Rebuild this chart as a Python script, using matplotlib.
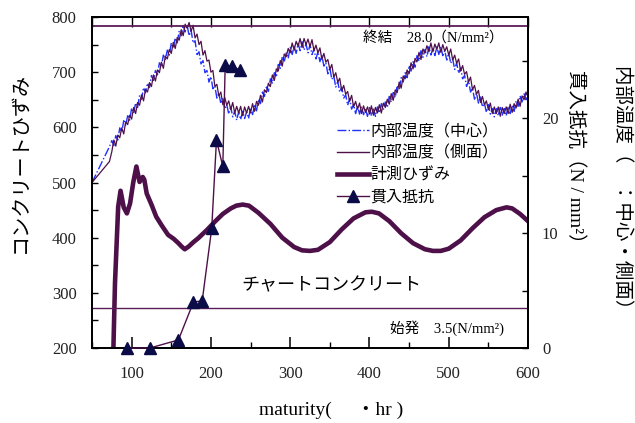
import numpy as np
import matplotlib
matplotlib.use("Agg")
import matplotlib.pyplot as plt
from matplotlib.lines import Line2D

# ---- data ----
# internal temperature, shown on the strain scale; logger samples every 2.5 units
temp_x = np.concatenate([[50, 72], np.arange(75, 600.1, 2.5)])
temp_center = [500, 565,
               576, 567, 585, 577, 599, 591, 612, 604, 621, 613,
               635, 626, 644, 636, 658, 651, 672, 663, 680, 672,
               694, 685, 703, 695, 717, 710, 731, 723, 740, 731,
               753, 744, 762, 753, 775, 766, 786, 773, 785, 766,
               776, 753, 757, 732, 737, 715, 721, 699, 703, 682,
               692, 670, 675, 653, 662, 643, 652, 634, 641, 624,
               637, 619, 629, 613, 628, 614, 629, 616, 628, 616,
               635, 623, 639, 630, 651, 643, 664, 656, 673, 665,
               688, 680, 699, 691, 714, 707, 728, 719, 735, 725,
               745, 732, 747, 734, 752, 739, 755, 740, 751, 735,
               750, 732, 742, 724, 737, 719, 730, 711, 717, 697,
               708, 687, 693, 673, 683, 664, 673, 653, 659, 640,
               652, 633, 642, 625, 639, 624, 638, 623, 634, 620,
               636, 621, 633, 620, 637, 626, 643, 632, 646, 636,
               656, 646, 663, 654, 676, 669, 690, 682, 699, 690,
               712, 702, 719, 709, 730, 720, 739, 727, 741, 728,
               746, 731, 744, 730, 746, 732, 746, 730, 739, 722,
               735, 716, 724, 705, 717, 698, 708, 688, 694, 674,
               685, 664, 671, 651, 662, 644, 655, 637, 644, 627,
               641, 624, 634, 619, 634, 621, 636, 622, 634, 621,
               638, 625, 640, 629, 648, 638, 657, 646, 661, 650,
               670]
temp_side = [500, 538,
             556, 577, 566, 586, 581, 599, 588, 610, 605, 622,
             615, 636, 625, 645, 640, 659, 648, 669, 664, 681,
             674, 695, 684, 704, 699, 718, 707, 729, 724, 741,
             734, 754, 743, 763, 758, 777, 766, 787, 780, 790,
             774, 785, 762, 769, 750, 756, 731, 739, 720, 722,
             700, 703, 674, 678, 657, 664, 641, 654, 640, 648,
             632, 645, 626, 638, 626, 638, 621, 637, 626, 638,
             626, 643, 629, 647, 640, 658, 646, 668, 663, 680,
             674, 695, 685, 706, 702, 721, 711, 733, 728, 743,
             735, 753, 740, 756, 747, 761, 745, 761, 750, 760,
             746, 759, 739, 749, 735, 744, 723, 734, 718, 723,
             705, 714, 691, 699, 682, 689, 666, 676, 660, 665,
             647, 658, 637, 647, 633, 644, 625, 639, 627, 637,
             624, 639, 622, 636, 626, 641, 626, 644, 636, 651,
             642, 661, 649, 668, 663, 682, 671, 693, 688, 704,
             697, 717, 706, 725, 719, 736, 723, 742, 735, 748,
             737, 753, 737, 751, 741, 753, 736, 750, 738, 746,
             731, 742, 722, 731, 716, 724, 702, 712, 696, 701,
             682, 691, 668, 676, 660, 667, 645, 656, 641, 648,
             632, 644, 625, 637, 625, 637, 620, 636, 625, 637,
             625, 642, 627, 643, 635, 651, 638, 657, 650, 664,
             655]

# measured strain
strain_x = [77, 79, 83, 86, 90, 94, 98, 102, 106, 110, 114, 116, 119, 125,
            131, 138, 146, 153, 159, 163, 167, 172, 178, 184, 195, 205, 215,
            225, 232, 240, 248, 260, 275, 290, 305, 315, 325, 335, 350, 365,
            380, 395, 403, 412, 425, 440, 455, 470, 480, 490, 500, 515, 530,
            545, 560, 573, 580, 590, 600]
strain_y = [200, 318, 456, 485, 455, 444, 462, 500, 529, 501, 510, 505, 480, 460,
            438, 422, 405, 398, 390, 384, 379, 384, 392, 399, 414, 429, 443,
            453, 458, 460, 458, 445, 425, 400, 383, 377, 376, 378, 392, 415,
            435, 446, 447, 444, 430, 408, 390, 379, 376, 376, 380, 395, 417,
            437, 450, 455, 453, 443, 430]

# penetration resistance (N/mm2)
pen_x = [94, 123, 159, 178, 189, 201, 207, 215, 218, 226, 237]
pen_y = [0, 0, 0.7, 4.0, 4.1, 10.4, 18.1, 15.8, 24.6, 24.5, 24.2]

final_set = 28.0
initial_set = 3.5

legend_labels = ["内部温度（中心）", "内部温度（側面）", "計測ひずみ", "貫入抵抗"]

# ---- styles ----
purple = "#4E1049"
hline_c = "#5A1D57"
blue = "#1F30FF"
navy = "#0B0B48"
jp = "Noto Sans CJK JP"
mix = ["Liberation Serif", "Noto Sans CJK JP"]

fig = plt.figure(figsize=(6.35, 4.23), dpi=100)
ax1 = fig.add_axes([0.1449, 0.1773, 0.6866, 0.7825])
ax2 = ax1.twinx()

ax1.plot(temp_x, temp_center, color=blue, lw=1.0, ls="-.")
ax1.plot(temp_x, temp_side, color=purple, lw=0.9)
ax1.plot(strain_x, strain_y, color=purple, lw=3.3, solid_joinstyle="round")

ax2.plot(pen_x, pen_y, color=purple, lw=1.0, marker="^", ms=9,
         mfc=navy, mec=navy, clip_on=False, zorder=5)
ax2.axhline(final_set, color=hline_c, lw=1.3)
ax2.axhline(initial_set, color=hline_c, lw=1.0)

ax1.set_xlim(50, 600)
ax1.set_ylim(200, 800)
ax2.set_ylim(0, 28.8)

ax1.set_xticks(np.arange(100, 601, 100))
ax1.set_xticks(np.arange(50, 601, 50), minor=True)
ax1.set_yticks(np.arange(200, 801, 100))
ax1.set_yticks(np.arange(200, 801, 50), minor=True)
ax2.set_yticks([0, 10, 20])
ax2.set_yticks([5, 15, 25], minor=True)

ax1.tick_params(axis="x", which="major", direction="in", length=8, width=1.1, pad=13)
ax1.tick_params(axis="x", which="minor", direction="in", length=4, width=1.0)
ax1.tick_params(axis="y", which="both", direction="in", length=4, width=1.0, pad=11)
ax2.tick_params(axis="y", which="both", direction="in", length=4, width=1.0, pad=10)

top = ax1.secondary_xaxis("top")
top.set_xticks(np.arange(50, 601, 50))
top.tick_params(direction="in", length=7, width=1.0, labeltop=False)

for lab in ax1.get_xticklabels() + ax1.get_yticklabels() + ax2.get_yticklabels():
    lab.set_fontfamily("Liberation Serif")
    lab.set_fontsize(12)
    lab.set_color("#222222")

for a in (ax1, ax2):
    for s in a.spines.values():
        s.set_linewidth(1.3)
top.spines["top"].set_linewidth(1.3)

# annotations
ax2.text(392, 27.0, "終結　28.0（N/mm²）", family=mix, fontsize=10.5, va="center", ha="left")
ax2.text(426, 1.75, "始発　3.5(N/mm²)", family=mix, fontsize=10.5, va="center", ha="left")
ax1.text(352, 314, "チャートコンクリート", family=jp, fontsize=13, ha="center", va="center")

fig.text(20 / 635, 1 - 162 / 423, "コンクリートひずみ", family=jp, fontsize=14.5,
         rotation=90, ha="center", va="center")
fig.text(575 / 635, 1 - 161 / 423, "貫入抵抗（N / mm²）", family=mix, fontsize=14,
         rotation=270, ha="center", va="center")
fig.text(623 / 635, 1 - 192 / 423, "内部温度（　：中心・側面）", family=jp, fontsize=14,
         rotation=270, ha="center", va="center")
fig.text(331 / 635, 1 - 410 / 423, "maturity(　 ・hr )", family=mix, fontsize=14,
         ha="center", va="center")

handles = [
    Line2D([], [], color=blue, lw=1.0, ls="-."),
    Line2D([], [], color=purple, lw=1.0),
    Line2D([], [], color=purple, lw=3.3),
    Line2D([], [], color=purple, lw=1.0, marker="^", ms=9, mfc=navy, mec=navy),
]
ax2.legend(handles, legend_labels, loc="upper left", bbox_to_anchor=(0.562, 0.68),
           frameon=False, borderaxespad=0, borderpad=0, handlelength=2.0,
           handletextpad=0.1, labelspacing=0.3, numpoints=1,
           prop={"family": jp, "size": 11.5})

fig.savefig("out.png", dpi=100)
